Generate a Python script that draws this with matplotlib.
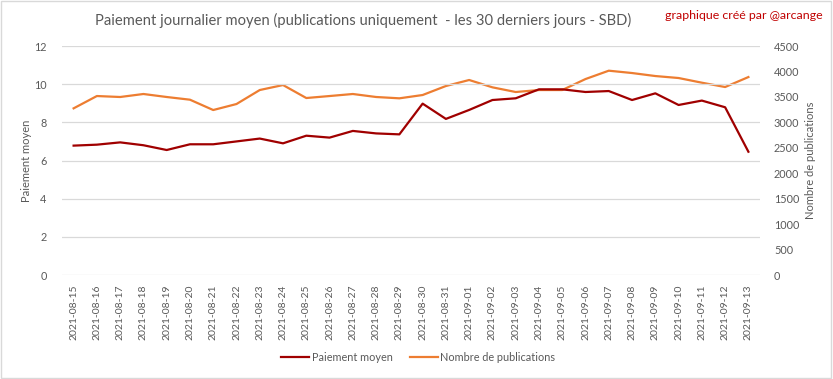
import numpy as np
import pandas as pd
import matplotlib
matplotlib.use('Agg')
import matplotlib.pyplot as plt

plt.rcParams['font.family'] = ['Lato', 'DejaVu Sans']

dates = pd.date_range('2021-08-15', '2021-09-13').strftime('%Y-%m-%d').tolist()

# paiement moyen (SBD) - axe de gauche
paiement = [6.78, 6.83, 6.95, 6.8, 6.55, 6.85, 6.85, 7.0, 7.15, 6.9,
            7.3, 7.2, 7.55, 7.42, 7.37, 8.98, 8.18, 8.65, 9.17, 9.26,
            9.73, 9.73, 9.59, 9.64, 9.17, 9.52, 8.91, 9.14, 8.79, 6.46]
# nombre de publications - axe de droite
publications = [3275, 3517, 3498, 3557, 3498, 3445, 3242, 3360, 3635, 3733,
                3478, 3517, 3557, 3498, 3472, 3537, 3714, 3832, 3688, 3596,
                3635, 3635, 3851, 4015, 3969, 3910, 3871, 3779, 3694, 3890]

red = '#A00000'
orange = '#ED7D31'
gray = '#595959'
grid = '#D9D9D9'

fig = plt.figure(figsize=(8.33, 3.79), dpi=100)
ax = fig.add_axes([0.0744, 0.2744, 0.838, 0.6042])
ax2 = ax.twinx()

x = np.arange(len(dates))
l1, = ax.plot(x, paiement, color=red, lw=1.6, label='Paiement moyen', zorder=3)
l2, = ax2.plot(x, publications, color=orange, lw=1.6, label='Nombre de publications')
ax.set_zorder(2)
ax.patch.set_visible(False)

ax.set_xlim(-0.5, len(dates) - 0.5)
ax.set_ylim(0, 12)
ax2.set_ylim(0, 4500)
ax.set_yticks(np.arange(0, 13, 2))
ax2.set_yticks(np.arange(0, 4501, 500))
ax.set_xticks(x)
ax.set_xticklabels(dates, rotation=90)

ax.grid(axis='y', color=grid, lw=0.9)
ax.set_axisbelow(True)
for a in (ax, ax2):
    for s in a.spines.values():
        s.set_visible(False)
    a.tick_params(length=0, labelsize=7.8, labelcolor=gray)
ax.tick_params(axis='y', pad=11)
ax.tick_params(axis='x', pad=7, labelsize=7.5)
ax2.tick_params(axis='y', pad=10)

ax.set_ylabel('Paiement moyen', color=gray, fontsize=8)
ax2.set_ylabel('Nombre de publications', color=gray, fontsize=8)
ax.yaxis.set_label_coords(-0.043, 0.5)
ax2.yaxis.set_label_coords(1.0645, 0.5)

fig.text(0.4364, 0.945, 'Paiement journalier moyen (publications uniquement  - les 30 derniers jours - SBD)',
         ha='center', va='center', fontsize=10.6, color=gray)
fig.text(0.988, 0.96, 'graphique créé par @arcange', ha='right', va='center',
         fontsize=8.9, color='#C00000')

fig.legend(handles=[l1, l2], loc='center', bbox_to_anchor=(0.502, 0.058), ncol=2,
           frameon=False, fontsize=7.8, labelcolor=gray, handlelength=2.6,
           handletextpad=0.2, columnspacing=1.6)

fig.patches.append(plt.Rectangle((0.001, 0.002), 0.997, 0.995, transform=fig.transFigure,
                                 fill=False, edgecolor=grid, lw=1))

fig.savefig('out.png', dpi=100)
